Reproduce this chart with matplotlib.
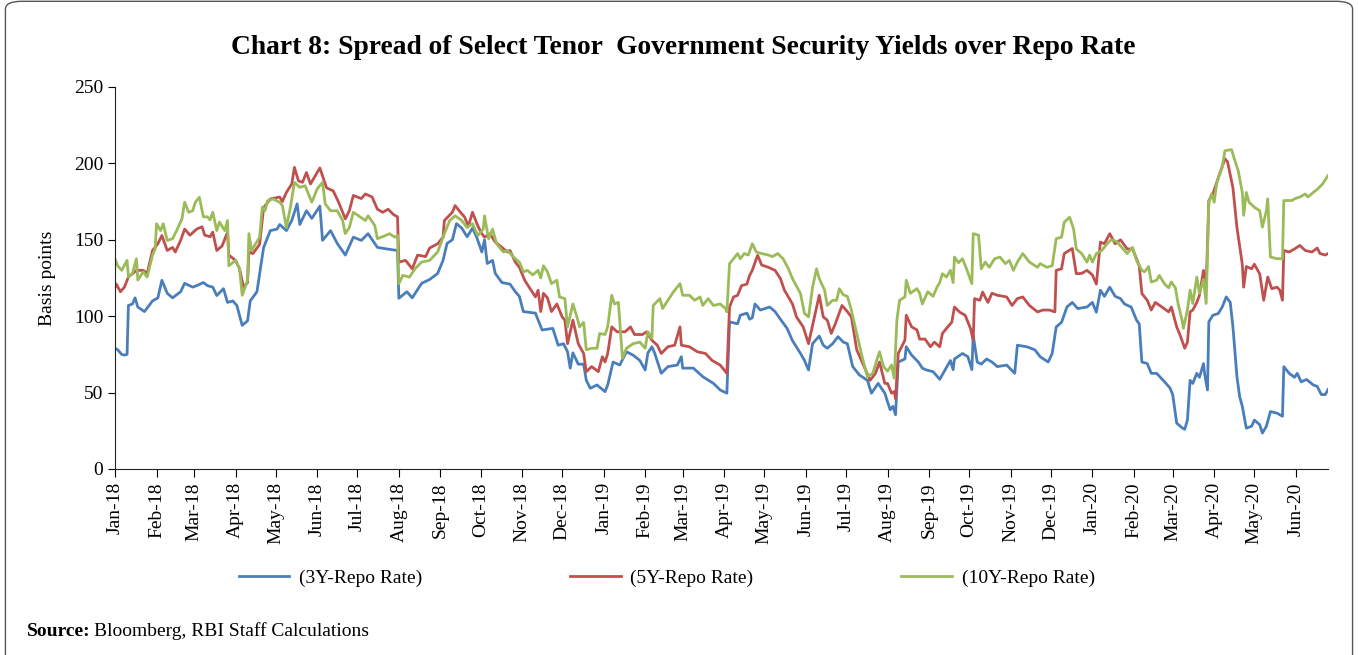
import numpy as np
import matplotlib
matplotlib.use("Agg")
import matplotlib.pyplot as plt
import matplotlib.dates as mdates
from matplotlib.patches import FancyBboxPatch

# spreads in basis points, x given as days since 1 Jan 2018
days_3y = [0, 2, 5, 7, 9, 10, 13, 15, 17, 22, 28, 32, 35, 39, 43, 49, 52, 58, 61, 66,
           69, 73, 76, 81, 84, 88, 91, 95, 99, 101, 106, 111, 116, 121, 123, 128, 132, 136, 138, 143,
           147, 153, 155, 161, 166, 172, 178, 184, 189, 196, 203, 211, 212, 218, 222, 229, 235, 241, 245, 248,
           252, 255, 259, 263, 267, 270, 274, 276, 278, 282, 284, 289, 295, 299, 302, 305, 314, 319, 327, 331,
           335, 338, 340, 342, 346, 350, 352, 355, 360, 366, 368, 372, 377, 382, 387, 392, 396, 398, 401, 403,
           408, 413, 420, 423, 424, 432, 439, 447, 452, 457, 459, 465, 467, 472, 474, 476, 478, 482, 489, 493,
           497, 502, 506, 512, 515, 518, 521, 526, 529, 532, 536, 540, 544, 547, 551, 556, 562, 565, 570, 575,
           577, 579, 581, 583, 585, 590, 591, 595, 600, 603, 606, 611, 616, 620, 624, 626, 627, 633, 637, 640,
           641, 644, 647, 651, 655, 659, 666, 672, 674, 681, 687, 691, 697, 700, 703, 707, 711, 715, 719, 726,
           730, 733, 736, 739, 743, 747, 751, 754, 759, 763, 765, 767, 771, 774, 778, 784, 788, 790, 793, 797,
           799, 801, 803, 805, 808, 810, 813, 814, 816, 817, 820, 824, 827, 830, 833, 835, 838, 840, 842, 845,
           849, 851, 855, 857, 860, 863, 868, 872, 873, 877, 881, 883, 886, 890, 895, 898, 901, 904, 906]
vals_3y = [79, 78, 75, 74.5, 75, 107, 108, 112, 106, 103, 110, 112, 123.5, 115, 112, 116, 121.5, 119, 120, 122,
           120, 119, 113.5, 118, 109, 110, 107, 94, 97, 110, 116, 145, 156, 157, 160, 156, 162.6, 173.5, 160, 169,
           164, 172, 149.6, 156, 147.6, 140, 151.7, 149.6, 154, 145, 144, 143, 111.7, 116, 112, 121.5, 124, 128, 136.5, 147.6,
           150, 160.6, 157.6, 152, 157.6, 152, 142, 150, 134.5, 136.5, 128, 122, 121, 116, 113, 103, 102, 91, 92, 81,
           82, 76.7, 66, 76, 68.6, 68.6, 58, 52.8, 55, 50.6, 55, 70, 68, 76.7, 74.5, 71, 64.8, 76, 80, 76,
           62.6, 67, 68, 73.5, 66, 66, 60.4, 56, 51.7, 49.6, 96.3, 95, 100.6, 102, 98, 99, 108, 104, 106, 103,
           98, 92, 84, 75.6, 71, 64.8, 82, 87, 81, 79, 82, 86.6, 83, 82, 67, 61.5, 58, 49.6, 56, 49.6,
           44, 38.7, 41, 35.5, 70, 72, 80, 74.5, 70, 66, 64.8, 63.7, 58.7, 64.8, 71, 65, 72, 75.6, 73.5, 65,
           87.6, 70, 68.6, 72, 70, 67, 68, 62.6, 81, 80, 78, 73.5, 70, 75.6, 93, 96, 106, 109, 105, 106,
           109, 102.6, 117, 113, 119, 113, 111.5, 108, 106, 97.4, 95, 70, 69, 62.6, 62.6, 57, 53, 48.7, 30, 27,
           26, 32, 58, 56, 62.6, 60, 69, 61.5, 51.7, 96.3, 100.6, 101.7, 106, 112.6, 109, 93, 60.4, 47.4, 41, 26.7,
           28, 32, 29, 23.5, 28, 37.6, 36.5, 34.5, 67, 62.6, 60, 62.6, 57, 58.6, 55, 54, 48.7, 48.7, 52]

days_5y = [0, 1, 4, 7, 10, 16, 21, 24, 28, 32, 35, 39, 43, 45, 49, 52, 56, 61, 65, 67,
           71, 73, 76, 80, 84, 85, 90, 93, 96, 99, 100, 103, 108, 111, 116, 123, 125, 128, 132, 134,
           137, 140, 143, 146, 151, 153, 158, 163, 167, 172, 175, 178, 184, 187, 192, 196, 200, 204, 208, 211,
           212, 217, 222, 226, 232, 235, 241, 245, 246, 252, 254, 258, 261, 264, 267, 271, 274, 276, 280, 284,
           289, 293, 295, 299, 302, 306, 310, 314, 316, 318, 320, 323, 326, 330, 334, 336, 338, 342, 346, 350,
           352, 356, 361, 364, 366, 368, 371, 375, 381, 385, 388, 394, 397, 401, 405, 408, 413, 418, 422, 423,
           429, 435, 441, 446, 452, 457, 459, 462, 465, 468, 472, 474, 476, 479, 480, 483, 488, 493, 497, 500,
           506, 509, 514, 518, 523, 526, 529, 532, 535, 538, 543, 547, 550, 554, 559, 564, 568, 571, 575, 577,
           580, 582, 583, 585, 590, 591, 595, 599, 601, 605, 609, 612, 616, 618, 622, 625, 627, 631, 635, 639,
           641, 642, 646, 648, 652, 655, 659, 666, 670, 674, 678, 683, 689, 693, 698, 702, 703, 707, 709, 715,
           718, 722, 726, 730, 733, 736, 739, 743, 747, 751, 756, 760, 763, 765, 767, 771, 774, 777, 782, 787,
           789, 793, 796, 799, 801, 803, 805, 808, 810, 813, 815, 817, 820, 825, 829, 831, 835, 838, 840, 842,
           843, 845, 849, 851, 855, 858, 861, 864, 868, 870, 872, 873, 877, 881, 885, 889, 894, 898, 900, 904,
           906]
vals_5y = [119, 121, 116, 119, 125.6, 130, 130, 128, 143, 147.4, 152.8, 143, 145, 142, 149.6, 157, 153, 157, 158.5, 153,
           152, 155, 143, 146, 155, 140, 136.5, 131, 119, 122, 142, 141, 147, 171, 176.7, 178, 175, 181, 186.5, 197.4,
           188.6, 187.6, 194, 186.5, 194, 197, 184, 182, 174.6, 163.7, 169, 179, 177, 180, 178, 170, 168, 170, 166.5, 165,
           135.4, 136.5, 131, 140, 139, 144.6, 147.4, 151.7, 162.6, 168, 172.4, 168, 165, 159, 168, 159, 154, 151.7, 154, 148.5,
           145, 142, 143, 135.4, 132, 123.5, 118, 112.6, 117, 103, 115, 112, 103, 108, 99.5, 97.4, 82, 97.4, 82, 75.6,
           63.7, 67, 63.7, 73.5, 70, 75.6, 93, 89.8, 89.8, 93, 88, 88, 89.8, 84.3, 81, 75.6, 80, 81, 93, 81,
           80, 76.7, 75.6, 71, 68, 62.6, 106, 112.6, 113.6, 120, 121, 126.7, 130, 137.6, 139.8, 133.5, 132, 130, 124.6, 117,
           108, 99.5, 93, 82, 101.7, 113.7, 99.5, 97.4, 88.7, 95, 107, 103, 99.5, 78, 68, 58, 62.6, 70, 56, 56,
           49.6, 50.6, 46, 75.6, 84.3, 100.6, 93, 91, 85, 85, 80, 83, 80, 88.7, 93, 96, 106, 102.6, 100.6, 91.9,
           84.3, 111.5, 110.4, 115.8, 109, 115, 113.7, 112.6, 107, 111.5, 112.6, 107, 102.8, 104, 104, 102.8, 130, 131, 141, 144.3,
           127.8, 128, 130, 127, 121, 148.5, 147.4, 154, 147.4, 150, 144, 144, 137.6, 133, 114.8, 110.4, 104, 109, 106, 102.8,
           106, 93, 86.5, 79, 83, 102.8, 104, 109, 113.7, 130, 119, 175.7, 180, 193, 203, 201, 184, 158, 146, 134,
           119, 132.5, 131, 134, 127.7, 110.4, 125.6, 118, 119, 117, 110.4, 143, 142, 144, 146.3, 143, 142, 144.6, 141, 140,
           141]

days_10y = [0, 2, 5, 9, 10, 13, 16, 17, 21, 24, 28, 30, 31, 34, 36, 39, 43, 46, 50, 52,
            55, 58, 60, 63, 66, 69, 71, 73, 76, 78, 82, 84, 85, 90, 93, 95, 99, 100, 102, 105,
            108, 110, 112, 114, 118, 123, 125, 128, 131, 134, 138, 142, 144, 147, 151, 155, 157, 161, 166, 170,
            172, 175, 178, 183, 187, 189, 194, 196, 202, 205, 209, 211, 212, 215, 220, 224, 229, 235, 241, 246,
            250, 254, 259, 263, 267, 271, 275, 276, 279, 282, 285, 290, 293, 299, 302, 305, 308, 312, 316, 318,
            320, 323, 326, 330, 332, 336, 338, 342, 345, 347, 350, 352, 356, 360, 362, 366, 368, 371, 373, 376,
            379, 382, 387, 392, 396, 398, 401, 402, 407, 409, 413, 417, 422, 424, 429, 433, 437, 439, 443, 447,
            452, 456, 457, 459, 462, 465, 467, 470, 473, 476, 479, 483, 488, 491, 495, 499, 503, 506, 512, 515,
            518, 521, 524, 526, 530, 532, 536, 539, 541, 544, 547, 550, 554, 558, 562, 566, 569, 571, 574, 577,
            580, 582, 584, 586, 590, 591, 594, 599, 601, 603, 605, 607, 611, 614, 616, 618, 621, 624, 626, 627,
            630, 633, 636, 640, 641, 645, 647, 650, 653, 657, 661, 665, 668, 671, 674, 678, 683, 689, 691, 696,
            700, 703, 707, 709, 713, 716, 718, 722, 726, 728, 730, 733, 737, 741, 744, 748, 751, 756, 760, 763,
            767, 769, 772, 774, 778, 780, 784, 787, 789, 792, 794, 797, 798, 801, 803, 805, 808, 810, 813, 815,
            817, 819, 821, 823, 827, 829, 834, 836, 839, 842, 843, 845, 847, 851, 855, 857, 860, 861, 863, 868,
            872, 873, 879, 881, 885, 889, 891, 895, 898, 902, 906]
vals_10y = [137.6, 133, 130, 136.5, 125.6, 128, 137.6, 123.6, 129, 125.6, 140, 144, 160.5, 156, 160.5, 149.6, 150.7, 156, 163.7, 174.6,
            168, 169, 174.6, 177.8, 165, 165, 163, 168, 156, 161.6, 156, 162.6, 133, 136.5, 131, 113.7, 123.6, 154, 143, 147.4,
            151.7, 171.3, 169, 175.6, 176.7, 174.6, 172.4, 158, 171.3, 187.6, 184.3, 185.4, 181, 174.6, 183.3, 187.6, 173.5, 169, 169, 162.6,
            154, 158, 168, 165, 162.6, 165.7, 159.4, 150.7, 152.8, 154, 151.7, 152.8, 121.3, 126.7, 125.6, 131, 135.4, 136.5, 142, 154,
            162.6, 165.7, 162.6, 158, 160.5, 152.8, 157, 165.7, 150.6, 157, 147.4, 142, 143, 137.6, 135.4, 129, 130, 127, 130, 125,
            133, 129, 121.3, 123.5, 112.6, 111.5, 93, 108, 99.5, 93, 96, 78, 79, 79, 88.7, 88, 93, 113.7, 108, 109,
            72.4, 79, 82, 83, 79, 89.8, 85.5, 107, 111.5, 105, 110.4, 115.8, 121.3, 113.7, 113.7, 110.4, 112.6, 107, 111.5, 107,
            108, 105, 102.8, 134.4, 137.6, 141, 137.6, 141, 140, 147.4, 142, 141, 140, 139, 141, 137.6, 131, 124.6, 114.8, 101.7,
            99.5, 119, 131, 124.6, 117, 107, 110.4, 110.4, 118, 114, 113, 104, 88.7, 73.5, 60.4, 62.6, 71.3, 76.7, 67, 64,
            68, 59.4, 97.4, 110.4, 112.6, 123.5, 115, 118, 115, 108, 112, 116, 113, 119, 122, 127.8, 125.6, 130, 122, 138.7,
            135, 137.6, 131, 121.3, 154, 153, 131, 135.4, 132, 137.6, 138.7, 134.4, 136.5, 130, 135.4, 141, 135.4, 132, 134.4, 132,
            133, 150.7, 151.7, 161.5, 164.8, 157, 144, 141, 135.4, 140, 135.4, 141, 143, 147.4, 150, 149, 146, 141, 145, 136.5,
            130, 129, 132.5, 122.4, 123.5, 126.7, 121, 118.6, 122.4, 118.6, 108.3, 97.4, 92, 104, 117, 108.3, 125.6, 115, 124, 108.3,
            174.6, 180, 174.6, 187.6, 197.4, 208.3, 209, 203, 195, 181, 166, 181, 174.6, 171.3, 169, 158.3, 169, 176.8, 138.7, 137.6,
            137.6, 175.7, 175.7, 176.8, 178, 180, 178, 181, 183, 186.6, 192]

series_names = ["(3Y-Repo Rate)", "(5Y-Repo Rate)", "(10Y-Repo Rate)"]
series_colors = ["#4a7ebb", "#c0504d", "#9bbb59"]

start = np.datetime64("2018-01-01")


def to_dates(days):
    return start + np.array(days).astype("timedelta64[D]")


plt.rcParams["font.family"] = ["Liberation Serif", "DejaVu Serif"]

fig = plt.figure(figsize=(13.58, 6.55), dpi=100)
ax = fig.add_axes([0.0847, 0.284, 0.8932, 0.5832])

for days, vals, name, col in zip([days_3y, days_5y, days_10y],
                                 [vals_3y, vals_5y, vals_10y],
                                 series_names, series_colors):
    ax.plot(to_dates(days), vals, color=col, lw=2.0, label=name)

ax.set_ylim(0, 250)
ax.set_yticks(range(0, 251, 50))
ax.set_xlim(start, start + np.timedelta64(906, "D"))
ax.xaxis.set_major_locator(mdates.MonthLocator())
ax.xaxis.set_major_formatter(mdates.DateFormatter("%b-%y"))
ax.tick_params(axis="x", rotation=90, labelsize=14, length=6, direction="out")
ax.tick_params(axis="y", labelsize=14, length=5, direction="out")
for s in ["top", "right"]:
    ax.spines[s].set_visible(False)
ax.spines["left"].set_color("#222222")
ax.spines["bottom"].set_color("#222222")
ax.set_ylabel("Basis points", fontsize=14)
ax.yaxis.set_label_coords(-0.049, 0.5)

fig.text(0.503, 0.928, "Chart 8: Spread of Select Tenor  Government Security Yields over Repo Rate",
         ha="center", va="center", fontsize=19.8, fontweight="bold")

fig.legend(loc="center", bbox_to_anchor=(0.491, 0.117), ncol=3, frameon=False,
           fontsize=14, handlelength=2.6, columnspacing=7.6, handletextpad=0.5)

fig.text(0.02, 0.036, "Source:", fontsize=14, fontweight="bold", va="center")
fig.text(0.069, 0.036, "Bloomberg, RBI Staff Calculations", fontsize=14, va="center")

border = FancyBboxPatch((0.004, -0.05), 0.992, 1.048, boxstyle="round,pad=0,rounding_size=0.012",
                        transform=fig.transFigure, fill=False, edgecolor="#555555", lw=1.0)
fig.patches.append(border)

fig.savefig("out.png", dpi=100)
